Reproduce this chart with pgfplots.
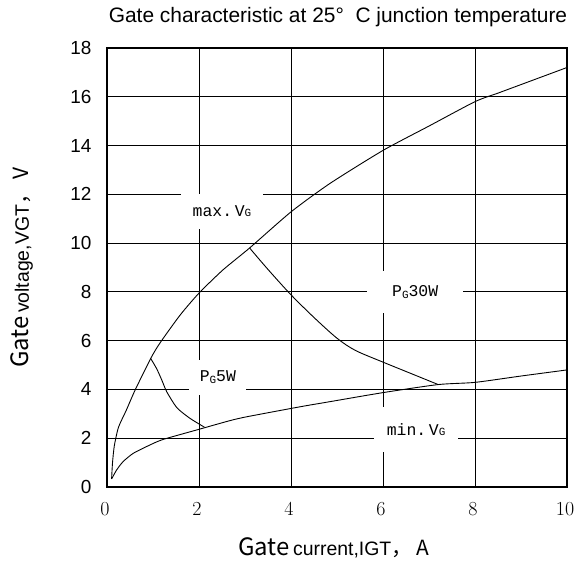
\documentclass[border=0pt]{standalone}
\usepackage{pgfplots}
\pgfplotsset{compat=1.18}
\usepackage{fontspec}
\newfontfamily\arial{Liberation Sans}
\newfontfamily\mono{Liberation Mono}
\newfontfamily\cjk{Noto Sans CJK SC}
\newcommand{\lbl}[2]{{\mono\fontsize{16.5}{16.5}\selectfont #1}{\mono\fontsize{11}{11}\selectfont #2}}
\begin{document}
\begin{tikzpicture}
\useasboundingbox (-107bp,-76bp) rectangle (475bp,487bp);
\begin{axis}[
  at={(0,0)}, anchor=south west,
  scale only axis, width=460bp, height=439bp,
  xmin=0, xmax=10, ymin=0, ymax=18,
  xtick={0,2,...,10}, ytick={0,2,...,18},
  grid=major,
  major grid style={black, line width=0.9pt},
  axis line style={black, line width=1.1pt},
  major tick length=0pt,
  /pgf/number format/assume math mode=true,
  xticklabel style={font=\rmfamily\fontsize{20}{20}\selectfont, yshift=-12bp, xshift=-2bp},
  yticklabel style={font=\arial\fontsize{19}{19}\selectfont, xshift=-12bp},
  clip=false,
]
% max VG
\addplot[black, line width=0.9pt, smooth, tension=0.4] coordinates {
 (0.1,0.33) (0.12,1.0) (0.16,1.7) (0.25,2.45) (0.42,3.15) (0.61,3.97) (0.95,5.27)
 (1.15,5.9) (1.59,7.05) (2.0,7.95) (2.52,8.9) (3.1,9.8) (4.0,11.28)
 (4.85,12.45) (6,13.8) (7,14.8) (8,15.8) (8.5,16.15) (9,16.5) (10,17.2)};
% PG5W
\addplot[black, line width=0.9pt, smooth, tension=0.4] coordinates {
 (0.95,5.27) (1.08,4.85) (1.19,4.39) (1.3,3.9) (1.52,3.25) (1.8,2.82) (2.12,2.45)};
% PG30W
\addplot[black, line width=0.9pt, smooth, tension=0.5] coordinates {
 (3.1,9.8) (3.5,8.92) (4.0,7.88) (4.5,6.95) (5.0,6.1) (5.4,5.6) (6.0,5.12) (6.6,4.66) (7.2,4.2)};
% min VG
\addplot[black, line width=0.9pt, smooth, tension=0.4] coordinates {
 (0.1,0.33) (0.21,0.7) (0.35,1.04) (0.57,1.38) (0.93,1.72) (1.22,1.95) (1.99,2.36)
 (2.67,2.72) (3.04,2.88) (4.2,3.29) (4.85,3.5) (6,3.87) (7.2,4.2) (8,4.29) (9,4.55) (10,4.8)};
\node[fill=white, minimum width=81bp, minimum height=35bp, inner sep=0pt] at (axis cs:2.5,11.3) {\lbl{max.\,V}{G}};
\node[fill=white, minimum width=57bp, minimum height=35bp, inner sep=0pt] at (axis cs:2.41,4.5) {\lbl{P}{\raisebox{-2pt}{G}}\lbl{5W}{}};
\node[fill=white, minimum width=96bp, minimum height=42bp, inner sep=0pt] at (axis cs:6.7,8.0) {\lbl{P}{\raisebox{-2pt}{G}}\lbl{30W}{}};
\node[fill=white, minimum width=84bp, minimum height=45bp, inner sep=0pt] at (axis cs:6.72,2.35) {\lbl{min.\,V}{G}};
\end{axis}
\node at (231bp,470bp) {\arial\fontsize{21}{21}\selectfont Gate characteristic at 25°\ \ C junction temperature};
\node at (227bp,-61bp) {{\cjk\fontsize{24}{24}\selectfont Gate} {\arial\fontsize{19.5}{19.5}\selectfont current,IGT}{\cjk\fontsize{21}{21}\selectfont ，\ A}};
\node[rotate=90] at (-85bp,219.5bp) {{\cjk\fontsize{24}{24}\selectfont Gate} {\arial\fontsize{19.5}{19.5}\selectfont voltage,VGT}{\cjk\fontsize{21}{21}\selectfont ，\ V}};
\end{tikzpicture}
\end{document}
